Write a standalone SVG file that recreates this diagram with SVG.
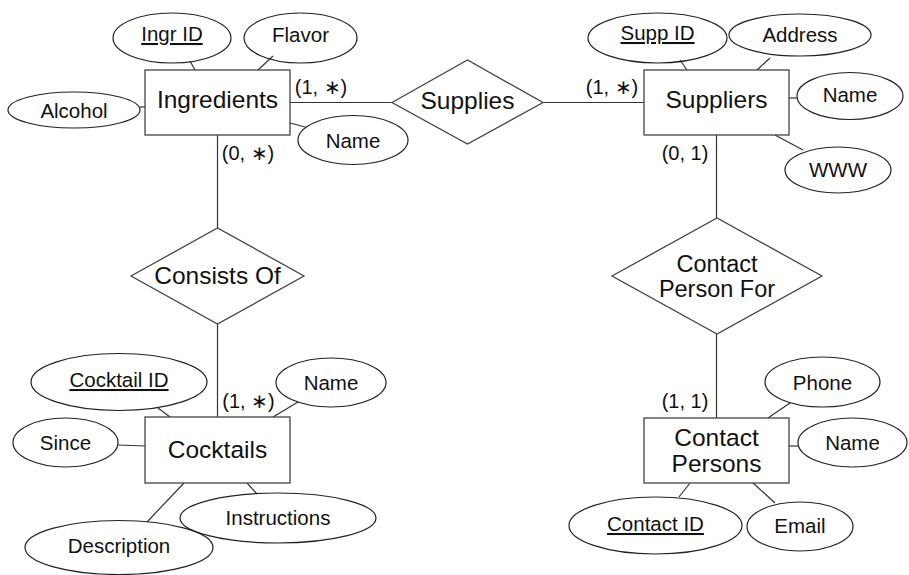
<svg xmlns="http://www.w3.org/2000/svg" width="909" height="575" viewBox="0 0 909 575">
<style>
.s{fill:none;stroke:#333;stroke-width:1.2}
.e{fill:none;stroke:#222;stroke-width:1.2}
.r{fill:#fff;stroke:#444;stroke-width:1.3}
text{font-family:"Liberation Sans",Arial,sans-serif;fill:#111;text-anchor:middle}
.a{font-size:20.5px}
.b{font-size:24.5px}
.d{font-size:23.5px}
.c{font-size:20px}
.u{text-decoration:underline}
</style>
<rect width="909" height="575" fill="#fff"/>
<g id="connectors" class="s">
<line x1="290" y1="102.5" x2="392" y2="102.5"/>
<line x1="543" y1="102.5" x2="644" y2="102.5"/>
<line x1="217.5" y1="135" x2="217.5" y2="228"/>
<line x1="217.5" y1="324" x2="217.5" y2="417"/>
<line x1="716.5" y1="135" x2="716.5" y2="218"/>
<line x1="716.5" y1="334" x2="716.5" y2="418"/>
<line x1="190" y1="61" x2="195" y2="70"/>
<line x1="273" y1="56" x2="258" y2="70"/>
<line x1="140" y1="107" x2="145" y2="107"/>
<line x1="290" y1="123" x2="305" y2="127"/>
<line x1="680" y1="60" x2="687" y2="70"/>
<line x1="770" y1="58" x2="757" y2="70"/>
<line x1="789" y1="98" x2="797" y2="98"/>
<line x1="775" y1="135" x2="803" y2="150"/>
<line x1="158" y1="408" x2="170" y2="417"/>
<line x1="298" y1="402" x2="273" y2="417"/>
<line x1="118" y1="445" x2="145" y2="446"/>
<line x1="184" y1="483" x2="147" y2="522"/>
<line x1="247" y1="483" x2="257" y2="494"/>
<line x1="790" y1="403" x2="768" y2="418"/>
<line x1="789" y1="446" x2="798" y2="446"/>
<line x1="690" y1="483" x2="679" y2="497"/>
<line x1="753" y1="483" x2="775" y2="503"/>
</g>
<g id="ingredients"><rect class="r" x="145" y="70" width="145" height="65"/><text class="b" x="217.5" y="108">Ingredients</text></g>
<g id="suppliers"><rect class="r" x="644" y="70" width="145" height="65"/><text class="b" x="716.5" y="108">Suppliers</text></g>
<g id="cocktails"><rect class="r" x="145" y="417" width="145" height="66"/><text class="b" x="217.5" y="458">Cocktails</text></g>
<g id="contact-persons"><rect class="r" x="644" y="418" width="145" height="65"/><text class="b" x="716.5" y="446">Contact</text><text class="b" x="716.5" y="472">Persons</text></g>
<g id="supplies"><polygon class="r" points="392,102.5 467.5,60 543,102.5 467.5,144"/><text class="b" x="467.5" y="109">Supplies</text></g>
<g id="consists-of"><polygon class="r" points="131,276 217.5,228 304,276 217.5,324"/><text class="b" x="217.5" y="284">Consists Of</text></g>
<g id="contact-person-for"><polygon class="r" points="612,276 717,218 822,276 717,334"/><text class="d" x="717" y="272">Contact</text><text class="d" x="717" y="297">Person For</text></g>
<g id="ingr-id"><ellipse class="e" cx="172" cy="38" rx="59" ry="25"/><text class="a u" x="172" y="41">Ingr ID</text></g>
<g id="flavor"><ellipse class="e" cx="300.5" cy="38" rx="56.5" ry="25"/><text class="a" x="300.5" y="42">Flavor</text></g>
<g id="alcohol"><ellipse class="e" cx="74" cy="110" rx="66" ry="18"/><text class="a" x="74" y="118">Alcohol</text></g>
<g id="ingr-name"><ellipse class="e" cx="353" cy="140" rx="55" ry="24.5"/><text class="a" x="353" y="148">Name</text></g>
<g id="supp-id"><ellipse class="e" cx="657.5" cy="38" rx="69.5" ry="25"/><text class="a u" x="657.5" y="40">Supp ID</text></g>
<g id="address"><ellipse class="e" cx="800" cy="35" rx="71" ry="21"/><text class="a" x="800" y="42">Address</text></g>
<g id="supp-name"><ellipse class="e" cx="850" cy="96" rx="53" ry="23.5"/><text class="a" x="850" y="102">Name</text></g>
<g id="www"><ellipse class="e" cx="838" cy="170" rx="53" ry="23"/><text class="a" x="838" y="177">WWW</text></g>
<g id="cocktail-id"><ellipse class="e" cx="119" cy="382" rx="88" ry="28.5"/><text class="a u" x="119" y="387">Cocktail ID</text></g>
<g id="cocktail-name"><ellipse class="e" cx="331" cy="382.5" rx="55" ry="24.5"/><text class="a" x="331" y="390">Name</text></g>
<g id="since"><ellipse class="e" cx="65.5" cy="442.5" rx="52.5" ry="24.5"/><text class="a" x="65.5" y="450">Since</text></g>
<g id="instructions"><ellipse class="e" cx="278" cy="518" rx="98" ry="25"/><text class="a" x="278" y="525">Instructions</text></g>
<g id="description"><ellipse class="e" cx="119" cy="547.5" rx="94" ry="27"/><text class="a" x="119" y="553">Description</text></g>
<g id="phone"><ellipse class="e" cx="822.5" cy="382" rx="57.5" ry="25"/><text class="a" x="822.5" y="390">Phone</text></g>
<g id="cp-name"><ellipse class="e" cx="852.5" cy="442.5" rx="54.5" ry="24.5"/><text class="a" x="852.5" y="450">Name</text></g>
<g id="contact-id"><ellipse class="e" cx="655.5" cy="525.5" rx="86.5" ry="28.5"/><text class="a u" x="655.5" y="531">Contact ID</text></g>
<g id="email"><ellipse class="e" cx="800" cy="526.5" rx="53" ry="24.5"/><text class="a" x="800" y="533">Email</text></g>
<g id="labels">
<text class="c" x="321" y="94">(1, ∗)</text>
<text class="c" x="248" y="160">(0, ∗)</text>
<text class="c" x="612" y="94">(1, ∗)</text>
<text class="c" x="685" y="160">(0, 1)</text>
<text class="c" x="248.5" y="408">(1, ∗)</text>
<text class="c" x="685" y="408">(1, 1)</text>
</g>
</svg>
